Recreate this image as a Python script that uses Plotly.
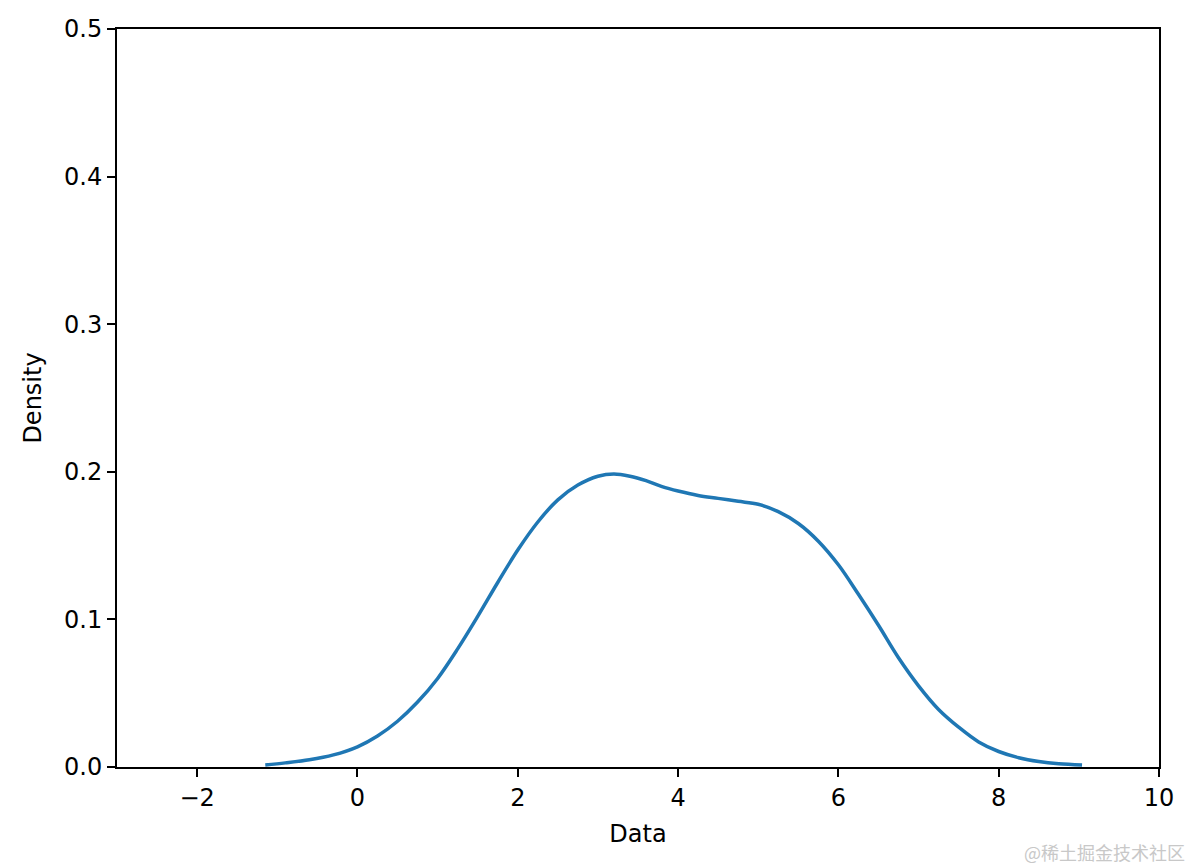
"""
KDE density curve, matplotlib/seaborn look.
"""
import plotly.graph_objects as go

# values
data_x = [-1.15, -0.9, -0.6, -0.3, 0.0, 0.25, 0.5, 0.75, 1.0, 1.25, 1.5, 1.75,
          2.0, 2.25, 2.5, 2.75, 3.0, 3.2, 3.4, 3.6, 3.8, 4.0, 4.25, 4.5, 4.75,
          5.0, 5.25, 5.5, 5.75, 6.0, 6.25, 6.5, 6.75, 7.0, 7.25, 7.5, 7.75,
          8.0, 8.25, 8.5, 8.75, 9.04]
density = [0.0014, 0.0028, 0.0049, 0.0082, 0.0137, 0.021, 0.031, 0.044, 0.060,
           0.080, 0.102, 0.125, 0.147, 0.166, 0.181, 0.191, 0.197, 0.1985,
           0.197, 0.194, 0.190, 0.187, 0.184, 0.182, 0.180, 0.178, 0.173,
           0.165, 0.153, 0.137, 0.117, 0.096, 0.074, 0.055, 0.039, 0.027,
           0.017, 0.0105, 0.0063, 0.0037, 0.0022, 0.0014]
x_ticks = [-2, 0, 2, 4, 6, 8, 10]
y_ticks = [0.0, 0.1, 0.2, 0.3, 0.4, 0.5]

FONT = "DejaVu Sans"

fig = go.Figure(
    go.Scatter(
        x=data_x,
        y=density,
        mode="lines",
        line={"color": "#1f77b4", "width": 3.5, "shape": "spline", "smoothing": 1},
        showlegend=False,
    )
)

axis_common = {
    "showline": True,
    "linecolor": "black",
    "linewidth": 2,
    "mirror": True,
    "showgrid": False,
    "zeroline": False,
    "ticks": "outside",
    "ticklen": 8,
    "tickwidth": 2,
    "tickcolor": "black",
    "tickfont": {"family": FONT, "size": 24, "color": "black"},
    "automargin": False,
}

fig.update_xaxes(
    range=[-3, 10],
    tickvals=x_ticks,
    ticktext=[str(v).replace("-", "\u2212") for v in x_ticks],
    title={"text": "Data", "font": {"family": FONT, "size": 24, "color": "black"},
           "standoff": 14},
    **axis_common,
)
fig.update_yaxes(
    range=[0, 0.5],
    tickvals=y_ticks,
    ticktext=[f"{v:.1f}" for v in y_ticks],
    title={"text": "Density", "font": {"family": FONT, "size": 24, "color": "black"},
           "standoff": 16},
    **axis_common,
)

# site watermark, bottom right
fig.add_annotation(
    text="@稀土掘金技术社区",
    xref="paper", yref="paper",
    x=1.027, y=-0.115,
    xanchor="right", yanchor="middle",
    showarrow=False,
    font={"family": "Noto Sans CJK SC", "size": 18, "color": "#c8c8c8"},
)

# page adds ~8px offset, so shrink the figure to keep the plot area in place
fig.update_layout(
    width=1186,
    height=860,
    margin={"l": 109, "r": 35, "t": 21, "b": 101},
    paper_bgcolor="white",
    plot_bgcolor="white",
    font={"family": FONT},
)

fig.write_html("out.html")
